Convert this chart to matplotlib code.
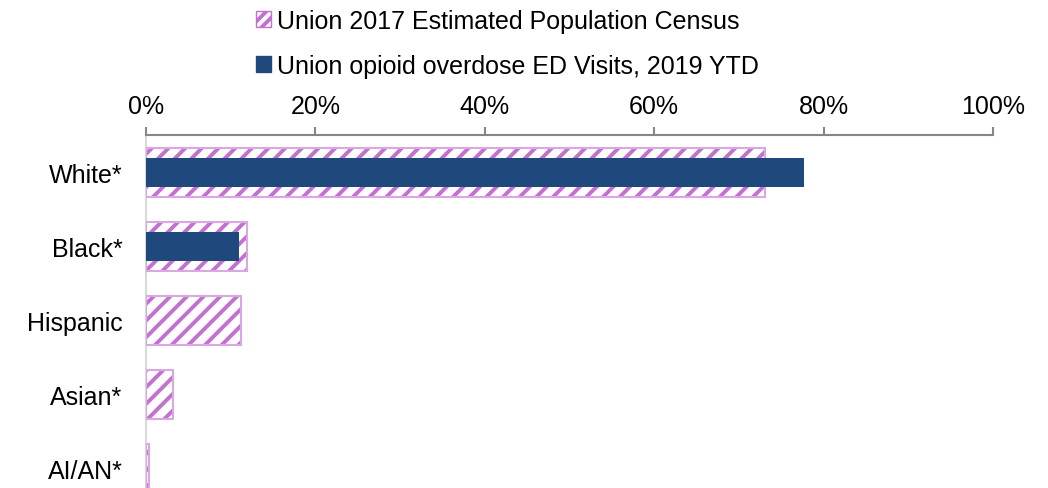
import matplotlib.pyplot as plt
from matplotlib.patches import Patch
import numpy as np

# data
categories = ['White*', 'Black*', 'Hispanic', 'Asian*', 'AI/AN*']
census_2017 = [73.1, 11.9, 11.2, 3.2, 0.3]
ed_visits_2019 = [77.7, 11.0, 0.0, 0.0, 0.0]
x_ticks = [0, 20, 40, 60, 80, 100]
x_tick_labels = ['0%', '20%', '40%', '60%', '80%', '100%']

plt.rcParams['font.family'] = ['Liberation Sans', 'DejaVu Sans']
plt.rcParams['hatch.linewidth'] = 2.8

hatch_col = '#c371d0'
edge_col = '#d9a8e2'
blue = '#1f497d'

fig = plt.figure(figsize=(10.48, 4.89), dpi=100)
ax = fig.add_axes([146 / 1048, 0.0, (993 - 146) / 1048, 1 - 136 / 489])

y = np.arange(len(categories))

#hatched census bars (hatch and border drawn separately)
ax.barh(y, census_2017, height=0.66, color='white', edgecolor=hatch_col,
        hatch='//', linewidth=0, zorder=2)
ax.barh(y, census_2017, height=0.66, color='none', edgecolor=edge_col,
        linewidth=1.5, zorder=3)
#ED visit bars drawn on top, narrower
ax.barh(y, ed_visits_2019, height=0.39, color=blue, linewidth=0, zorder=4)

ax.set_xlim(0, 100)
ax.set_ylim(4.26, -0.51)
ax.set_xticks(x_ticks)
ax.set_xticklabels(x_tick_labels)
ax.set_yticks(y)
ax.set_yticklabels(categories)

ax.xaxis.tick_top()
ax.tick_params(axis='x', direction='out', length=6, width=1.5, color='#868686',
               labelsize=18, pad=6)
ax.tick_params(axis='y', length=0, labelsize=18, pad=17)

for side in ['bottom', 'right']:
    ax.spines[side].set_visible(False)
ax.spines['top'].set_color('#868686')
ax.spines['top'].set_linewidth(1.5)
ax.spines['left'].set_color('#d9d9d9')
ax.spines['left'].set_linewidth(1.5)

handles = [Patch(facecolor='white', edgecolor=hatch_col, hatch='///', linewidth=1),
           Patch(facecolor=blue, edgecolor=blue)]
labels = ['Union 2017 Estimated Population Census',
          'Union opioid overdose ED Visits, 2019 YTD']
fig.legend(handles, labels, loc='upper left', bbox_to_anchor=(251 / 1048, 1 - 5 / 489),
           frameon=False, fontsize=18, handlelength=0.6, handleheight=0.6,
           handletextpad=0.25, labelspacing=0.83, borderpad=0.2, borderaxespad=0)

fig.savefig('out.png', dpi=100)
